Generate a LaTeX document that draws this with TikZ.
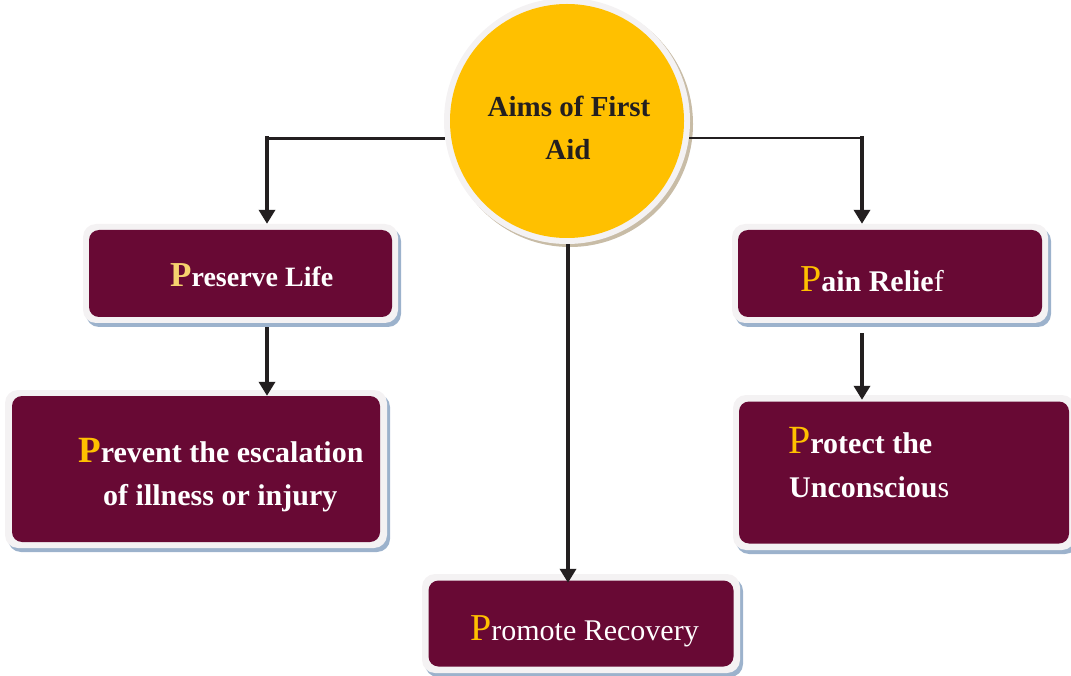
\documentclass[tikz,border=0pt]{standalone}
\usepackage{fontspec}
\setmainfont{Liberation Serif}
\usetikzlibrary{arrows.meta,calc}

\definecolor{aimmaroon}{RGB}{104,9,52}
\definecolor{aimgold}{RGB}{255,192,0}
\definecolor{palegold}{RGB}{246,210,110}
\definecolor{rimwhite}{RGB}{244,242,243}
\definecolor{boxshadow}{RGB}{156,178,204}
\definecolor{discshadow}{RGB}{200,188,166}
\definecolor{inkline}{RGB}{35,31,32}

% initial letter in a larger size
\newcommand\initial[3]{{\fontsize{#1}{#1}\selectfont\color{#2}#3}}

\begin{document}
\begin{tikzpicture}[x=1pt,y=-1pt,
  rimbox/.style={rectangle, rounded corners=13pt, fill=rimwhite, inner sep=0pt,
    preaction={fill=boxshadow, transform canvas={shift={(3pt,-4pt)}}}},
  corebox/.style={rectangle, rounded corners=10pt, fill=aimmaroon, inner sep=0pt},
  lbl/.style={anchor=base west, inner sep=0pt, text=white},
  ttl/.style={anchor=base, inner sep=0pt, text=inkline,
    font=\fontsize{29}{34}\selectfont\bfseries},
  link/.style={draw=inkline, line width=3.5pt},
  tip/.style={-{Triangle[width=16pt,length=14pt]}}
]
\useasboundingbox (0,0) rectangle (1071,676);

% central disc
\node[circle, fill=rimwhite, minimum size=246pt, inner sep=0pt,
  preaction={fill=discshadow, transform canvas={shift={(3pt,-3pt)}}}] (aim) at (567,121) {};
\node[circle, fill=aimgold, minimum size=234pt, inner sep=0pt] (aimcore) at (aim.center) {};
\node[ttl] (aimA) at (569,117) {Aims of First};
\node[ttl] (aimB) at (568,160) {Aid};

% boxes
\node[rimbox, minimum width=315pt, minimum height=99pt] (pres) at (240.5,273.5) {};
\node[corebox, minimum width=303pt, minimum height=87pt] (presin) at (pres.center) {};

\node[rimbox, minimum width=382pt, minimum height=158pt] (prev) at (196,469) {};
\node[corebox, minimum width=368pt, minimum height=146pt] (previn) at (prev.center) {};

\node[rimbox, minimum width=316pt, minimum height=99pt] (pain) at (890,273.5) {};
\node[corebox, minimum width=304pt, minimum height=87pt] (painin) at (pain.center) {};

\node[rimbox, minimum width=342pt, minimum height=155pt] (prot) at (904,472.5) {};
\node[corebox, minimum width=330pt, minimum height=142pt] (protin) at (prot.center) {};

\node[rimbox, minimum width=318pt, minimum height=99pt] (prom) at (581,623.5) {};
\node[corebox, minimum width=305pt, minimum height=86pt] (promin) at (prom.center) {};

% labels
\node[lbl] (tpres) at (170,287) {\fontsize{28}{34}\selectfont\bfseries
  \initial{35}{palegold}{P}reserve Life};
\node[lbl] (tprevA) at (78,462) {\fontsize{30}{36}\selectfont\bfseries
  \initial{37}{aimgold}{P}revent the escalation};
\node[lbl] (tprevB) at (103,505) {\fontsize{30}{36}\selectfont\bfseries
  of illness or injury};
\node[lbl] (tpain) at (800,292) {\fontsize{30}{36}\selectfont
  \initial{38}{aimgold}{P}\textbf{ain Relie}f};
\node[lbl] (tprotA) at (788,453) {\fontsize{30}{36}\selectfont
  \initial{40}{aimgold}{P}\textbf{rotect the}};
\node[lbl] (tprotB) at (789,497) {\fontsize{30}{36}\selectfont
  \textbf{Unconsciou}s};
\node[lbl] (tprom) at (470,640) {\fontsize{30}{36}\selectfont
  \initial{38}{aimgold}{P}romote Recovery};

% connectors
\coordinate (lcol) at ($(pres.north)+(26.5,0)$);
\coordinate (rcol) at ($(pain.north)+(-28,0)$);

\draw[link, line width=3pt] (aim.188.6) -- (aim.188.6 -| lcol);
\draw[link, tip, line cap=rect] (aim.188.6 -| lcol) -- (lcol);

\draw[link, line width=1.6pt] (aim.-8.6) -- (aim.-8.6 -| rcol);
\draw[link, tip, line cap=rect] (aim.-8.6 -| rcol) -- (rcol);

\draw[link, tip] ($(lcol |- pres.south)+(0,4)$) -- ($(lcol |- prev.north)+(0,6)$);
\draw[link, tip] ($(rcol |- pain.south)+(0,10)$) -- ($(rcol |- prot.north)+(0,5)$);
\draw[link, tip] ($(aim.south)+(1,0)$) -- ($(aim.south |- prom.north)+(1,9)$);
\end{tikzpicture}
\end{document}
